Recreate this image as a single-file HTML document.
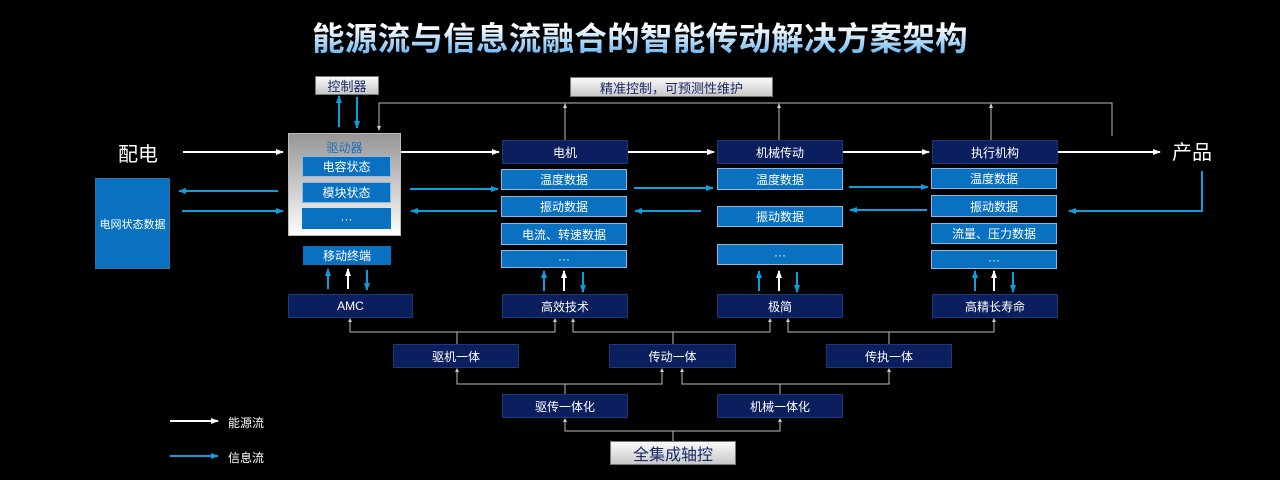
<!DOCTYPE html>
<html><head><meta charset="utf-8"><style>
*{margin:0;padding:0;box-sizing:border-box}
body{width:1280px;height:480px;background:#000;position:relative;overflow:hidden;font-family:"Liberation Sans","Noto Sans CJK SC",sans-serif}
.b{position:absolute;display:flex;align-items:center;justify-content:center;color:#fff;font-size:12px;white-space:nowrap}
.n{background:#0b1f5e;border:1px solid #1c3a7a}
.d{background:#0a70c0;border:1px solid #8fb8e0}
.g{background:linear-gradient(#fafafa,#c8c8c8);color:#1a2a6a;border:1px solid #777}
.t{position:absolute;color:#fff;white-space:nowrap}
svg{position:absolute;left:0;top:0}
</style></head><body>
<div class="t" style="left:290px;top:13px;width:700px;text-align:center;font-size:32.5px;font-weight:bold;background:linear-gradient(#ffffff 30%,#4aa8f0);-webkit-background-clip:text;color:transparent;letter-spacing:0.3px">能源流与信息流融合的智能传动解决方案架构</div>

<svg width="1280" height="480">
<defs>
<marker id="w" markerUnits="userSpaceOnUse" markerWidth="8" markerHeight="8" refX="7" refY="4" orient="auto"><path d="M0,1L8,4L0,7z" fill="#fff"/></marker>
<marker id="bl" markerUnits="userSpaceOnUse" markerWidth="8" markerHeight="8" refX="7" refY="4" orient="auto"><path d="M0,1L8,4L0,7z" fill="#0aa0e0"/></marker>
<marker id="gy" markerUnits="userSpaceOnUse" markerWidth="5" markerHeight="5" refX="4" refY="2.5" orient="auto"><path d="M0,0.5L5,2.5L0,4.5z" fill="#ccc"/></marker>
</defs>
<g stroke="#fff" stroke-width="2" fill="none" marker-end="url(#w)">
<line x1="183" y1="152" x2="283" y2="152"/>
<line x1="401" y1="152" x2="499" y2="152"/>
<line x1="628" y1="152" x2="714" y2="152"/>
<line x1="843" y1="152" x2="929" y2="152"/>
<line x1="1058" y1="152" x2="1160" y2="152"/>
<line x1="170" y1="421" x2="218" y2="421"/>
<line x1="348" y1="289" x2="348" y2="269"/>
<line x1="564" y1="291" x2="564" y2="271"/>
<line x1="779" y1="291" x2="779" y2="271"/>
<line x1="994" y1="291" x2="994" y2="271"/>
</g>
<g stroke="#0aa0e0" stroke-width="2" fill="none" marker-end="url(#bl)">
<line x1="278" y1="191" x2="179" y2="191"/>
<line x1="182" y1="211" x2="283" y2="211"/>
<line x1="410" y1="189" x2="498" y2="189"/>
<line x1="497" y1="211" x2="411" y2="211"/>
<line x1="634" y1="188" x2="713" y2="188"/>
<line x1="701" y1="211" x2="635" y2="211"/>
<line x1="849" y1="187" x2="928" y2="187"/>
<line x1="927" y1="210" x2="850" y2="210"/>
<polyline points="1202,171 1202,211 1069,211"/>
<line x1="170" y1="456" x2="218" y2="456"/>
<line x1="339" y1="127" x2="339" y2="96"/>
<line x1="357" y1="97" x2="357" y2="128"/>
<line x1="328" y1="289" x2="328" y2="269"/>
<line x1="367" y1="270" x2="367" y2="290"/>
<line x1="544" y1="291" x2="544" y2="271"/>
<line x1="583" y1="272" x2="583" y2="292"/>
<line x1="759" y1="291" x2="759" y2="271"/>
<line x1="797" y1="272" x2="797" y2="292"/>
<line x1="975" y1="291" x2="975" y2="271"/>
<line x1="1013" y1="272" x2="1013" y2="292"/>
</g>
<g stroke="#bbb" stroke-width="1" fill="none">
<polyline points="1112,136 1112,103 379,103 379,130" marker-end="url(#gy)"/>
<line x1="565" y1="140" x2="565" y2="104" marker-end="url(#gy)"/>
<line x1="779" y1="140" x2="779" y2="104" marker-end="url(#gy)"/>
<line x1="991" y1="140" x2="991" y2="104" marker-end="url(#gy)"/>
<line x1="457" y1="344" x2="457" y2="332"/>
<polyline points="350,320 350,332 555,332 555,320"/>
<line x1="673" y1="344" x2="673" y2="332"/>
<polyline points="573,320 573,332 770,332 770,320"/>
<line x1="889" y1="344" x2="889" y2="332"/>
<polyline points="788,320 788,332 994,332 994,320"/>
<line x1="565" y1="394" x2="565" y2="384"/>
<polyline points="457,370 457,384 662,384 662,370"/>
<line x1="780" y1="394" x2="780" y2="384"/>
<polyline points="682,370 682,384 889,384 889,370"/>
<line x1="673" y1="441" x2="673" y2="431"/>
<polyline points="565,420 565,431 780,431 780,420"/>
</g>
<g fill="#ccc">
<path d="M350,318l-2,4h4z"/><path d="M555,318l-2,4h4z"/><path d="M573,318l-2,4h4z"/><path d="M770,318l-2,4h4z"/>
<path d="M788,318l-2,4h4z"/><path d="M994,318l-2,4h4z"/>
<path d="M457,368l-2,4h4z"/><path d="M662,368l-2,4h4z"/><path d="M682,368l-2,4h4z"/><path d="M889,368l-2,4h4z"/>
<path d="M565,418l-2,4h4z"/><path d="M780,418l-2,4h4z"/>
</g>
</svg>

<div class="t" style="left:118px;top:138px;font-size:20px">配电</div>
<div class="t" style="left:1172px;top:136px;font-size:20px">产品</div>
<div class="t" style="left:228px;top:414px;font-size:12px">能源流</div>
<div class="t" style="left:228px;top:449px;font-size:12px">信息流</div>

<div class="b g" style="left:315px;top:76px;width:64px;height:19px;font-size:13px">控制器</div>
<div class="b g" style="left:570px;top:77px;width:203px;height:20px;font-size:13px">精准控制，可预测性维护</div>

<div class="b d" style="left:95px;top:178px;width:75px;height:91px;font-size:11px;border-color:#3a70a0">电网状态数据</div>

<div style="position:absolute;left:288px;top:133px;width:113px;height:103px;background:linear-gradient(#969696,#fdfdfd);border:1px solid #bbb"></div>
<div class="t" style="left:288px;top:139px;width:113px;text-align:center;color:#1f6fb8;font-size:12px">驱动器</div>
<div class="b d" style="left:302px;top:156px;width:89px;height:21px">电容状态</div>
<div class="b d" style="left:302px;top:182px;width:89px;height:21px">模块状态</div>
<div class="b d" style="left:302px;top:208px;width:89px;height:21px;border:none">···</div>
<div class="b d" style="left:303px;top:246px;width:88px;height:19px;border:none">移动终端</div>
<div class="b n" style="left:288px;top:294px;width:125px;height:24px">AMC</div>

<div class="b n" style="left:502px;top:140px;width:126px;height:24px">电机</div>
<div class="b d" style="left:501px;top:169px;width:126px;height:21px">温度数据</div>
<div class="b d" style="left:501px;top:196px;width:126px;height:21px">振动数据</div>
<div class="b d" style="left:501px;top:223px;width:126px;height:22px">电流、转速数据</div>
<div class="b d" style="left:501px;top:250px;width:126px;height:18px">···</div>
<div class="b n" style="left:502px;top:294px;width:126px;height:24px">高效技术</div>

<div class="b n" style="left:717px;top:140px;width:126px;height:24px">机械传动</div>
<div class="b d" style="left:717px;top:168px;width:126px;height:22px">温度数据</div>
<div class="b d" style="left:717px;top:206px;width:126px;height:21px">振动数据</div>
<div class="b d" style="left:717px;top:244px;width:126px;height:21px">···</div>
<div class="b n" style="left:717px;top:294px;width:126px;height:24px">极简</div>

<div class="b n" style="left:932px;top:140px;width:126px;height:24px">执行机构</div>
<div class="b d" style="left:931px;top:168px;width:126px;height:21px">温度数据</div>
<div class="b d" style="left:931px;top:195px;width:126px;height:22px">振动数据</div>
<div class="b d" style="left:931px;top:223px;width:126px;height:21px">流量、压力数据</div>
<div class="b d" style="left:931px;top:250px;width:126px;height:19px">···</div>
<div class="b n" style="left:932px;top:294px;width:126px;height:24px">高精长寿命</div>

<div class="b n" style="left:393px;top:344px;width:126px;height:24px">驱机一体</div>
<div class="b n" style="left:609px;top:344px;width:127px;height:24px">传动一体</div>
<div class="b n" style="left:826px;top:344px;width:126px;height:24px">传执一体</div>
<div class="b n" style="left:502px;top:394px;width:126px;height:24px">驱传一体化</div>
<div class="b n" style="left:717px;top:394px;width:126px;height:24px">机械一体化</div>
<div class="b g" style="left:610px;top:441px;width:126px;height:24px;font-size:16px">全集成轴控</div>
</body></html>
